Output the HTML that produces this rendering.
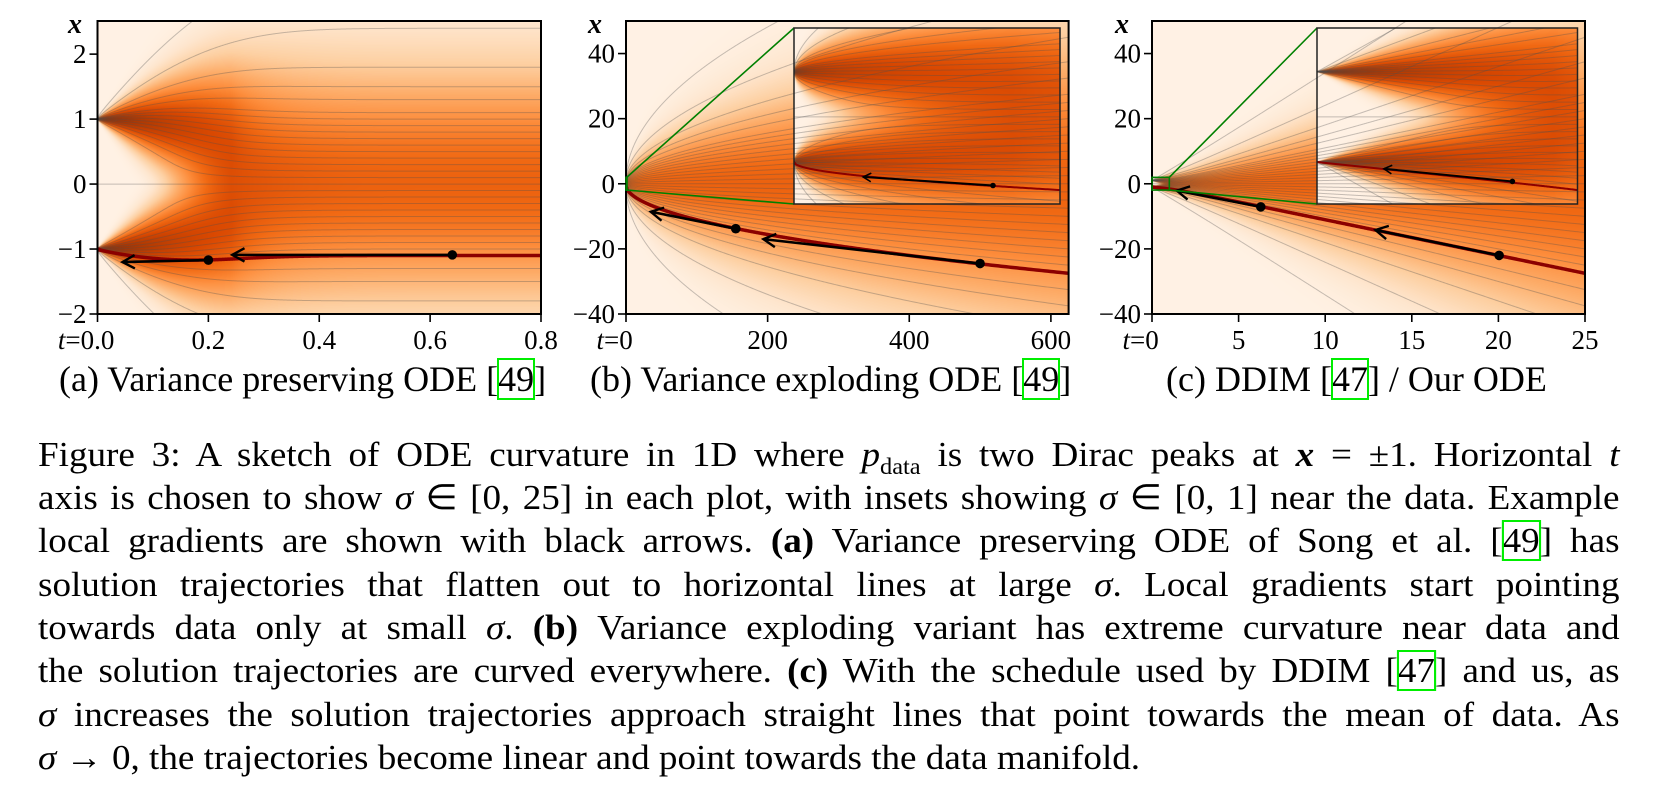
<!DOCTYPE html>
<html><head><meta charset="utf-8">
<style>
html,body{margin:0;padding:0;background:#fff;}
body{width:1672px;height:791px;position:relative;overflow:hidden;font-family:"Liberation Serif",serif;color:#000;}
canvas{position:absolute;}
#fig{position:absolute;left:0;top:0;}
svg text{font-family:"Liberation Serif",serif;}
.sub{position:absolute;top:358px;font-size:36px;line-height:43px;white-space:nowrap;}
.cap{position:absolute;left:38px;width:1492px;font-size:35px;line-height:43px;height:43px;text-align:justify;text-align-last:justify;white-space:nowrap;transform:scaleX(1.06);transform-origin:0 0;}
.cap.last{text-align-last:left;}
.cite{outline:2px solid #00ee00;outline-offset:-1px;}
i{font-style:italic}
</style></head><body>
<canvas id="heatA"></canvas>
<canvas id="heatB"></canvas>
<canvas id="heatC"></canvas>
<canvas id="heatBi"></canvas>
<canvas id="heatCi"></canvas>
<svg id="fig" width="1672" height="791" xmlns="http://www.w3.org/2000/svg"></svg>

<div class="sub" style="left:59px">(a) Variance preserving ODE [<span class="cite">49</span>]</div>
<div class="sub" style="left:590px">(b) Variance exploding ODE [<span class="cite">49</span>]</div>
<div class="sub" style="left:1166px">(c) DDIM [<span class="cite">47</span>] / Our ODE</div>

<div>
<div class="cap" style="top:433px">Figure 3: A sketch of ODE curvature in 1D where <i>p</i><sub style="font-size:23px;line-height:0">data</sub> is two Dirac peaks at <b><i>x</i></b> = ±1. Horizontal <i>t</i></div>
<div class="cap" style="top:476px">axis is chosen to show <i>σ</i> ∈ [0, 25] in each plot, with insets showing <i>σ</i> ∈ [0, 1] near the data. Example</div>
<div class="cap" style="top:519px">local gradients are shown with black arrows. <b>(a)</b> Variance preserving ODE of Song et al. [<span class="cite">49</span>] has</div>
<div class="cap" style="top:563px">solution trajectories that flatten out to horizontal lines at large <i>σ</i>. Local gradients start pointing</div>
<div class="cap" style="top:606px">towards data only at small <i>σ</i>. <b>(b)</b> Variance exploding variant has extreme curvature near data and</div>
<div class="cap" style="top:649px">the solution trajectories are curved everywhere. <b>(c)</b> With the schedule used by DDIM [<span class="cite">47</span>] and us, as</div>
<div class="cap" style="top:693px"><i>σ</i> increases the solution trajectories approach straight lines that point towards the mean of data. As</div>
<div class="cap last" style="top:736px"><i>σ</i> → 0, the trajectories become linear and point towards the data manifold.</div>
</div>

<script>
// ---- data ----
const dataPeaks = [-1, 1];
const sigmaMax = 25;
const trajStartZ = [-3.4,-2.4,-1.8,-1.5,-1.3,-1.1,-1.0,-0.9,-0.8,-0.7,-0.6,-0.5,-0.4,-0.3,-0.2,-0.1,0,0.1,0.2,0.3,0.4,0.5,0.6,0.7,0.8,0.9,1.0,1.1,1.3,1.5,1.8,2.4,3.4];
const redStartZ = -1.1;
const ticksA_x = [0, 0.2, 0.4, 0.6, 0.8];
const labelsA_x = ["0.0", "0.2", "0.4", "0.6", "0.8"];
const ticksA_y = [-2, -1, 0, 1, 2];
const labelsA_y = ["−2", "−1", "0", "1", "2"];
const ticksB_x = [0, 200, 400, 600];
const labelsB_x = ["0", "200", "400", "600"];
const ticksC_x = [0, 5, 10, 15, 20, 25];
const labelsC_x = ["0", "5", "10", "15", "20", "25"];
const ticksBC_y = [-40, -20, 0, 20, 40];
const labelsBC_y = ["−40", "−20", "0", "20", "40"];
const arrowsA_dotT = [0.64, 0.20], arrowsA_dotX = [-1.09, -1.17], arrowsA_headT = [0.243, 0.045], arrowsA_headX = [-1.09, -1.2];
const arrowsB_dotT = [155, 500], arrowsB_dotX = [-13.8, -24.5], arrowsB_headT = [35, 194], arrowsB_headX = [-8.6, -17];
const arrowsC_dotT = [6.28, 20.04], arrowsC_dotX = [-7.1, -22], arrowsC_headT = [1.43, 12.9], arrowsC_headX = [-2.1, -14.2];
const arrowsBi_dotT = [0.748], arrowsBi_dotX = [-1.52], arrowsBi_headT = [0.26], arrowsBi_headX = [-1.33];
const arrowsCi_dotT = [0.75], arrowsCi_dotX = [-1.43], arrowsCi_headT = [0.257], arrowsCi_headX = [-1.15];

// ---- schedules ----
const bD = 19.9, bMin = 0.1;
const sched = {
  vp: {sig: t => Math.sqrt(Math.exp(0.5*bD*t*t + bMin*t) - 1), s: t => 1/Math.sqrt(Math.exp(0.5*bD*t*t + bMin*t)),
       tOf: sg => (-bMin + Math.sqrt(bMin*bMin + 2*bD*Math.log(1+sg*sg)))/bD, sOf: sg => 1/Math.sqrt(1+sg*sg)},
  ve: {sig: t => Math.sqrt(t), s: t => 1, tOf: sg => sg*sg, sOf: sg => 1},
  dd: {sig: t => t, s: t => 1, tOf: sg => sg, sOf: sg => 1}
};

const panels = {
  A: {l:97.5, t:21, r:541, b:314, t0:0, t1:0.8, x0:-2, x1:2.51, sch:'vp', canvas:'heatA'},
  B: {l:626, t:21, r:1068.6, b:314, t0:0, t1:625, x0:-40, x1:50, sch:'ve', canvas:'heatB'},
  C: {l:1152, t:21, r:1585, b:314, t0:0, t1:25, x0:-40, x1:50, sch:'dd', canvas:'heatC'},
  Bi: {l:794, t:28, r:1060, b:204, t0:0, t1:1, x0:-1.93, x1:1.97, sch:'ve', canvas:'heatBi'},
  Ci: {l:1317, t:28, r:1577.5, b:204, t0:0, t1:1, x0:-1.93, x1:1.97, sch:'dd', canvas:'heatCi'}
};
function px(P, t){ return P.l + (t-P.t0)/(P.t1-P.t0)*(P.r-P.l); }
function py(P, x){ return P.b - (x-P.x0)/(P.x1-P.x0)*(P.b-P.t); }

const stops = ["#fff5eb","#fee6ce","#fdd0a2","#fdae6b","#fd8d3c","#f16913","#d94801","#a63603","#7f2704"].map(h=>[parseInt(h.substr(1,2),16),parseInt(h.substr(3,2),16),parseInt(h.substr(5,2),16)]);
function cmap(v){ v=Math.max(0,Math.min(1,v))*(stops.length-1); const i=Math.min(stops.length-2,Math.floor(v)), f=v-i;
  return [0,1,2].map(k=>stops[i][k]*(1-f)+stops[i+1][k]*f); }

function dens(xh, sg){ let p=0; for(const m of dataPeaks){ const d=(xh-m)/sg; p+=Math.exp(-0.5*d*d);} return p; }

function drawHeat(P){
  const S = sched[P.sch];
  const c = document.getElementById(P.canvas);
  const w = Math.round(P.r-P.l), h = Math.round(P.b-P.t);
  c.width=w; c.height=h; c.style.left=P.l+'px'; c.style.top=P.t+'px';
  const ctx=c.getContext('2d'); const img=ctx.createImageData(w,h);
  for(let i=0;i<w;i++){
    const t = P.t0 + (i+0.5)/w*(P.t1-P.t0);
    const sg = Math.max(S.sig(t), 0.004), s = S.s(t);
    const pmax = Math.max(dens(1,sg), dens(0,sg), dens(-1,sg));
    const boost = 0.62 + 0.3*Math.exp(-1.5*sg);
    for(let j=0;j<h;j++){
      const x = P.x1 - (j+0.5)/h*(P.x1-P.x0);
      const r = Math.pow(dens(x/s, sg)/pmax, 0.6);
      const col = cmap(0.03 + r*boost);
      const k=(j*w+i)*4; img.data[k]=col[0]; img.data[k+1]=col[1]; img.data[k+2]=col[2]; img.data[k+3]=255;
    }
  }
  ctx.putImageData(img,0,0);
}
Object.values(panels).forEach(drawHeat);

function integrate(z){
  const N=3000, u0=Math.log(sigmaMax), u1=Math.log(0.0008);
  let x = z*sigmaMax; const pts=[[sigmaMax,x]];
  const f=(x,u)=>{ const sg=Math.exp(u); return x - Math.tanh(x/(sg*sg)); };
  for(let n=0;n<N;n++){
    const ua=u0+(u1-u0)*n/N, h=(u1-u0)/N;
    const k1=f(x,ua), k2=f(x+h/2*k1,ua+h/2), k3=f(x+h/2*k2,ua+h/2), k4=f(x+h*k3,ua+h);
    x += h/6*(k1+2*k2+2*k3+k4);
    pts.push([Math.exp(ua+h), x]);
  }
  pts.push([0, x>0?1:(x<0?-1:0)]);
  return pts;
}
const NS="http://www.w3.org/2000/svg";
const svg=document.getElementById('fig');
function el(tag, attrs, parent){ const e=document.createElementNS(NS,tag); for(const k in attrs) e.setAttribute(k,attrs[k]); (parent||svg).appendChild(e); return e; }

const defs=el('defs',{});
Object.keys(panels).forEach(k=>{ const P=panels[k]; const cp=el('clipPath',{id:'clip'+k},defs); el('rect',{x:P.l,y:P.t,width:P.r-P.l,height:P.b-P.t},cp); });

function pathFor(P, pts){
  const S=sched[P.sch]; let d='';
  for(const [sg,xh] of pts){ const t=S.tOf(sg); if(t>P.t1*1.02) continue; const x=xh*S.sOf(sg);
    d += (d?'L':'M') + px(P,t).toFixed(2)+','+py(P,x).toFixed(2); }
  return d;
}
const trajs = trajStartZ.map(integrate);
const red = integrate(redStartZ);

function arrowhead(g, x1,y1,x2,y2, size, sw){
  const a=Math.atan2(y2-y1,x2-x1), sp=0.5;
  const p1=[x2-size*Math.cos(a-sp), y2-size*Math.sin(a-sp)], p2=[x2-size*Math.cos(a+sp), y2-size*Math.sin(a+sp)];
  const head=el('path',{d:`M${p1[0]},${p1[1]}L${x2},${y2}L${p2[0]},${p2[1]}`,fill:'none',stroke:'#000','stroke-width':sw},g);
  
  
}

function drawPanel(key, arrDT, arrDX, arrHT, arrHX, inset){
  const P=panels[key];
  const g=el('g',{'clip-path':`url(#clip${key})`});
  
  
  trajs.forEach(pts=>{
    const p=el('path',{d:pathFor(P,pts),fill:'none',stroke:'rgba(80,80,80,0.33)','stroke-width':1},g);
    
    
  });
  const rp=el('path',{d:pathFor(P,red),fill:'none',stroke:'#8b0000','stroke-width':inset?2:3.5},g);
  
  
  for(let i=0;i<arrDT.length;i++){
    const x1=px(P,arrDT[i]), y1=py(P,arrDX[i]), x2=px(P,arrHT[i]), y2=py(P,arrHX[i]);
    const ln=el('line',{x1,y1,x2,y2,stroke:'#000','stroke-width':inset?2:2.6},g);
    
    
    arrowhead(g,x1,y1,x2,y2,inset?9:14,inset?1.6:2.4);
    const dot=el('circle',{cx:x1,cy:y1,r:inset?2.8:4.8,fill:'#000'},g);
    
    
  }
  const fr=el('rect',{x:P.l,y:P.t,width:P.r-P.l,height:P.b-P.t,fill:'none',stroke:inset?'#222':'#000','stroke-width':inset?1.5:2});
  
  
}

function axes(key, tx, txl, ty, tyl, xLabelX){
  const P=panels[key];
  const g=el('g',{});
  
  
  ty.forEach((v,i)=>{ const y=py(P,v);
    el('line',{x1:P.l-8,y1:y,x2:P.l,y2:y,stroke:'#000','stroke-width':1.6},g);
    const t=el('text',{x:P.l-11,y:y+9,'text-anchor':'end','font-size':27},g);
    
    
    t.textContent=tyl[i]; });
  tx.forEach((v,i)=>{ const x=px(P,v);
    el('line',{x1:x,y1:P.b,x2:x,y2:P.b+8,stroke:'#000','stroke-width':1.6},g);
    const t=el('text',{x:x,y:349,'text-anchor':'middle','font-size':27},g);
    
    
    t.textContent=txl[i];
    if(i===0){ const w=t.getComputedTextLength();
      const pre=el('text',{x:x-w/2,y:349,'text-anchor':'end','font-size':27},g);
      
      
      pre.innerHTML='<tspan font-style="italic">t</tspan>='; }
  });
  const xl=el('text',{x:xLabelX,y:33,'font-size':28,'font-weight':'bold','font-style':'italic'},g);
  
  
  xl.textContent='x';
}

function zoomLines(mainKey, insetKey){
  const P=panels[mainKey], I=panels[insetKey];
  const rx0=px(P,I.t0), rx1=px(P,I.t1), ry0=py(P,I.x1), ry1=py(P,I.x0);
  const g=el('g',{});
  
  
  el('rect',{x:rx0,y:ry0,width:Math.max(rx1-rx0,1),height:ry1-ry0,fill:'none',stroke:'#008000','stroke-width':1.6},g);
  el('line',{x1:rx1,y1:ry0,x2:I.l,y2:I.t,stroke:'#008000','stroke-width':1.6},g);
  el('line',{x1:rx1,y1:ry1,x2:I.l,y2:I.b,stroke:'#008000','stroke-width':1.6},g);
}

drawPanel('A',arrowsA_dotT,arrowsA_dotX,arrowsA_headT,arrowsA_headX,false);
drawPanel('B',arrowsB_dotT,arrowsB_dotX,arrowsB_headT,arrowsB_headX,false);
drawPanel('C',arrowsC_dotT,arrowsC_dotX,arrowsC_headT,arrowsC_headX,false);
zoomLines('B','Bi'); zoomLines('C','Ci');
drawPanel('Bi',arrowsBi_dotT,arrowsBi_dotX,arrowsBi_headT,arrowsBi_headX,true);
drawPanel('Ci',arrowsCi_dotT,arrowsCi_dotX,arrowsCi_headT,arrowsCi_headX,true);
axes('A',ticksA_x,labelsA_x,ticksA_y,labelsA_y,68);
axes('B',ticksB_x,labelsB_x,ticksBC_y,labelsBC_y,588);
axes('C',ticksC_x,labelsC_x,ticksBC_y,labelsBC_y,1115);
</script>
</body></html>
